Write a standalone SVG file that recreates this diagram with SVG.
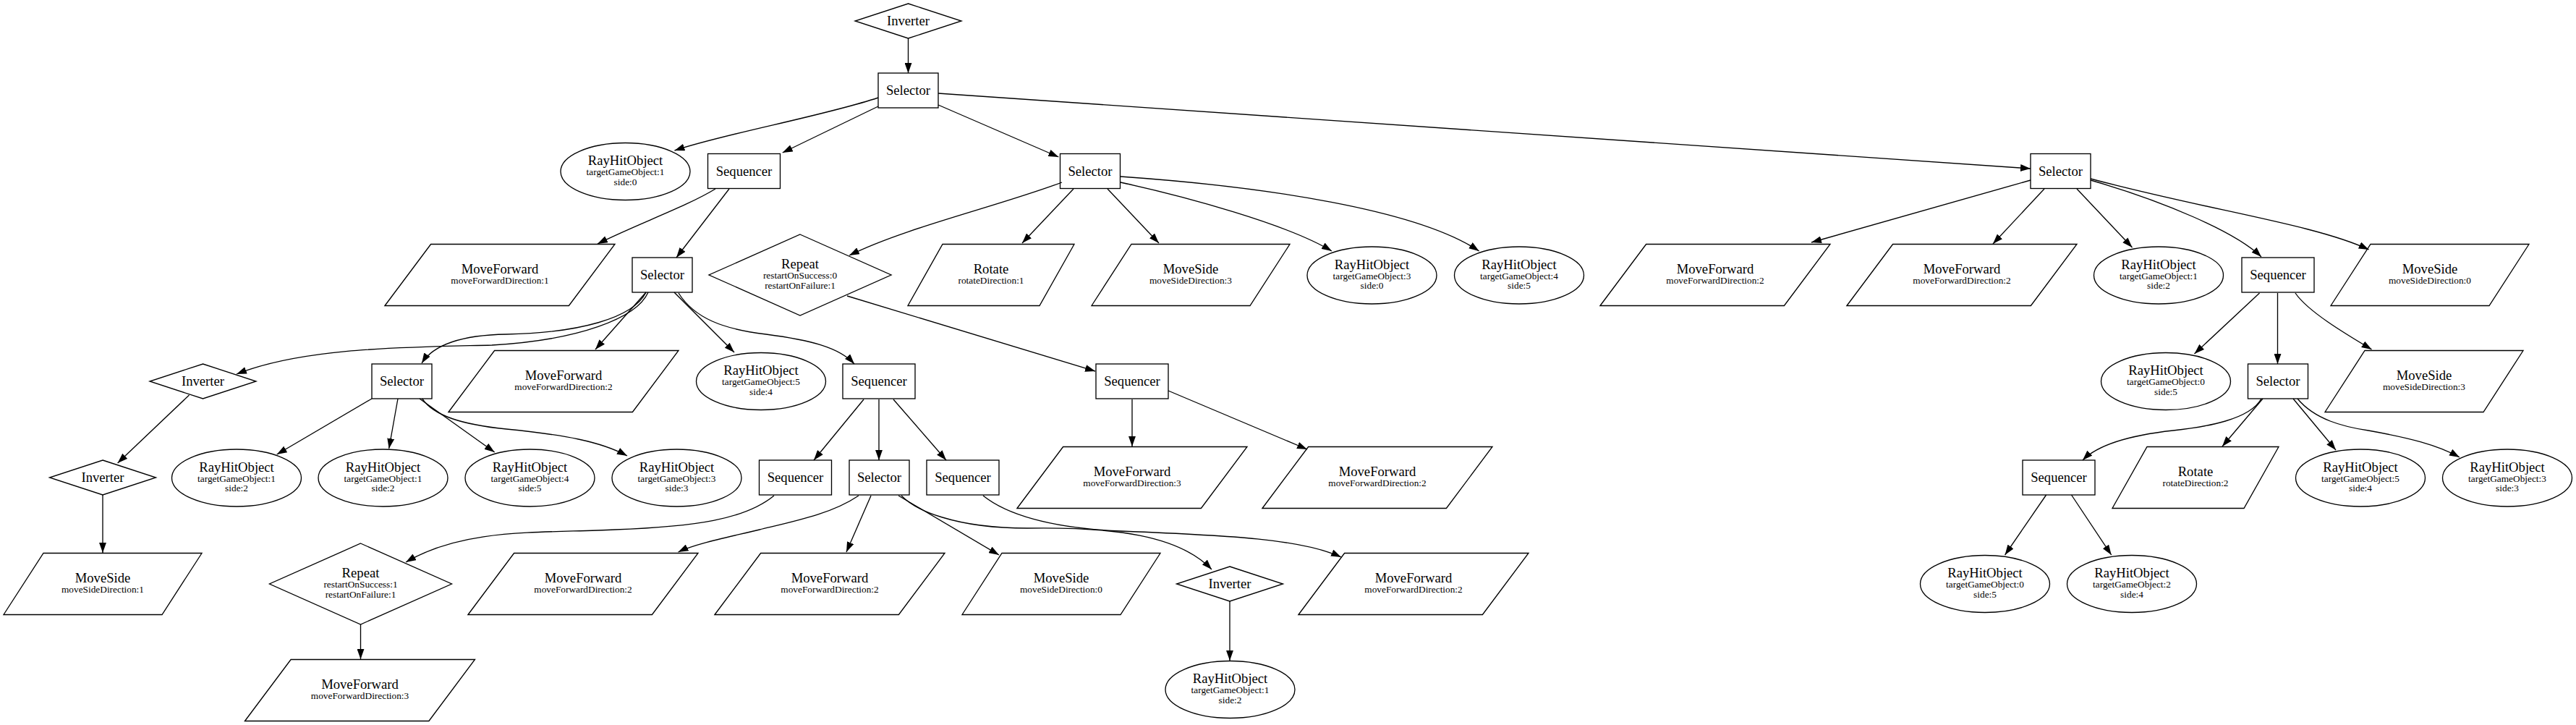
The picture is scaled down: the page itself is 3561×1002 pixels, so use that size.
<svg xmlns="http://www.w3.org/2000/svg" width="3561" height="1002" viewBox="0 0 3561 1002">
<defs>
<marker id="ah" markerUnits="userSpaceOnUse" markerWidth="14" markerHeight="10" viewBox="0 0 13.3 9.4" refX="13.3" refY="4.7" orient="auto">
<path d="M0,0 L13.3,4.7 L0,9.4 Z" fill="#000"/>
</marker>
</defs>
<style>
.sh{fill:none;stroke:#000;stroke-width:1.33}
.e{fill:none;stroke:#000;stroke-width:1.33;marker-end:url(#ah)}
text{font-family:"Liberation Serif","Times New Roman",serif;text-anchor:middle;fill:#000}
.t{font-size:18.67px}
.s{font-size:13.33px}
</style>
<rect x="0" y="0" width="3561" height="1002" fill="#fff"/>
<g id="edges">
<path class="e" d="M1255.5,53 L1255.5,101"/>
<path class="e" d="M1214,135 C1140,160 1000,185 932.5,208"/>
<path class="e" d="M1214,147 L1081.7,211"/>
<path class="e" d="M1297,145 L1463.4,217"/>
<path class="e" d="M1297,129 L2807,233"/>
<path class="e" d="M989,261 C950,285 880,310 826,337"/>
<path class="e" d="M1008,261 L935,356"/>
<path class="e" d="M1468,252 C1380,285 1250,315 1174,353"/>
<path class="e" d="M1484,261 L1413,336"/>
<path class="e" d="M1531,261 L1602,336"/>
<path class="e" d="M1549,252 C1640,272 1780,310 1841,347"/>
<path class="e" d="M1549,244 C1750,258 1960,290 2044.6,347"/>
<path class="e" d="M2807,249 L2504,335"/>
<path class="e" d="M2826,261 L2755,337"/>
<path class="e" d="M2871,261 L2947.5,342"/>
<path class="e" d="M2890,249 C2990,278 3090,320 3126,355"/>
<path class="e" d="M2890,247 C3050,290 3200,310 3274.6,345"/>
<path class="e" d="M896,404 C880,440 800,470 680,477 C560,480 420,480 327,517"/>
<path class="e" d="M893,404 C875,440 800,460 700,462 C640,463 600,475 583,502"/>
<path class="e" d="M893,404 L823,483"/>
<path class="e" d="M932,404 L1015,487"/>
<path class="e" d="M938,405 C960,440 1000,455 1059,462 C1120,470 1160,480 1181,503"/>
<path class="e" d="M1171,409 L1514,513"/>
<path class="e" d="M261.5,546 L162.6,640"/>
<path class="e" d="M514,551 L382.7,628"/>
<path class="e" d="M550,551 L537.7,620"/>
<path class="e" d="M580,551 L683.7,625"/>
<path class="e" d="M583.6,551 C600,575 640,587 700,593 C780,601 830,610 867,630"/>
<path class="e" d="M1194,552 L1125,636"/>
<path class="e" d="M1215,552 L1215,636"/>
<path class="e" d="M1235,552 L1308,636"/>
<path class="e" d="M1565,552 L1565,617"/>
<path class="e" d="M1615,540 L1807,621"/>
<path class="e" d="M142,684 L142,764"/>
<path class="e" d="M1070,685 C1030,718 960,728 850,732 C740,737 640,730 561,777"/>
<path class="e" d="M1187,685 C1150,710 1100,720 1050,732 C1000,744 960,752 937.5,763"/>
<path class="e" d="M1204,685 L1170,763"/>
<path class="e" d="M1242,685 L1381,767"/>
<path class="e" d="M1246,685 C1265,705 1320,730 1420,730 C1540,728 1630,740 1675,787"/>
<path class="e" d="M1359,685 C1390,710 1450,730 1550,734 C1700,740 1800,745 1854,770"/>
<path class="e" d="M498.5,863 L498.5,911"/>
<path class="e" d="M1700,831 L1700,913"/>
<path class="e" d="M3123.5,405 L3033.5,489"/>
<path class="e" d="M3148.5,405 L3148.5,503"/>
<path class="e" d="M3173,405 C3190,430 3240,460 3278.6,483"/>
<path class="e" d="M3126,551 C3110,580 3050,590 3004,595 C2940,602 2900,615 2879,636"/>
<path class="e" d="M3128,551 L3072,617"/>
<path class="e" d="M3170,551 L3229,622"/>
<path class="e" d="M3176,551 C3200,580 3240,590 3274,595 C3330,605 3370,615 3400,632"/>
<path class="e" d="M2828.6,684 L2771.6,767"/>
<path class="e" d="M2863.5,684 L2918.7,767"/>
</g>
<g id="n0"><polygon class="sh" points="1255.5,5 1329,29 1255.5,53 1182,29"/><text class="t" x="1255.5" y="35">Inverter</text></g>
<g id="n1"><rect class="sh" x="1214" y="101" width="83" height="48"/><text class="t" x="1255.5" y="131">Selector</text></g>
<g id="n2"><ellipse class="sh" cx="864.5" cy="237" rx="89.5" ry="39.5"/><text class="t" x="864.5" y="228">RayHitObject</text><text class="s" x="864.5" y="242">targetGameObject:1</text><text class="s" x="864.5" y="255.5">side:0</text></g>
<g id="n3"><rect class="sh" x="978.5" y="212.5" width="100" height="48"/><text class="t" x="1028.5" y="242.5">Sequencer</text></g>
<g id="n4"><rect class="sh" x="1465.5" y="212.5" width="83" height="48"/><text class="t" x="1507" y="242.5">Selector</text></g>
<g id="n5"><rect class="sh" x="2807" y="212.5" width="83" height="48"/><text class="t" x="2848.5" y="242.5">Selector</text></g>
<g id="n6"><polygon class="sh" points="532,422.5 595.6,337.5 850,337.5 786.4,422.5"/><text class="t" x="691" y="378">MoveForward</text><text class="s" x="691" y="392">moveForwardDirection:1</text></g>
<g id="n7"><rect class="sh" x="874" y="356" width="83" height="48"/><text class="t" x="915.5" y="386">Selector</text></g>
<g id="n8"><polygon class="sh" points="1106,324 1232,380 1106,436 980,380"/><text class="t" x="1106" y="371">Repeat</text><text class="s" x="1106" y="385">restartOnSuccess:0</text><text class="s" x="1106" y="398.5">restartOnFailure:1</text></g>
<g id="n9"><polygon class="sh" points="1255,422.5 1303,337.5 1485,337.5 1437,422.5"/><text class="t" x="1370" y="378">Rotate</text><text class="s" x="1370" y="392">rotateDirection:1</text></g>
<g id="n10"><polygon class="sh" points="1509,422.5 1564,337.5 1783,337.5 1728,422.5"/><text class="t" x="1646" y="378">MoveSide</text><text class="s" x="1646" y="392">moveSideDirection:3</text></g>
<g id="n11"><ellipse class="sh" cx="1896.5" cy="380.5" rx="89.5" ry="39.5"/><text class="t" x="1896.5" y="371.5">RayHitObject</text><text class="s" x="1896.5" y="385.5">targetGameObject:3</text><text class="s" x="1896.5" y="399">side:0</text></g>
<g id="n12"><ellipse class="sh" cx="2100" cy="380.5" rx="89.5" ry="39.5"/><text class="t" x="2100" y="371.5">RayHitObject</text><text class="s" x="2100" y="385.5">targetGameObject:4</text><text class="s" x="2100" y="399">side:5</text></g>
<g id="n13"><polygon class="sh" points="2212,422.5 2275.6,337.5 2530,337.5 2466.4,422.5"/><text class="t" x="2371" y="378">MoveForward</text><text class="s" x="2371" y="392">moveForwardDirection:2</text></g>
<g id="n14"><polygon class="sh" points="2553,422.5 2616.6,337.5 2871,337.5 2807.4,422.5"/><text class="t" x="2712" y="378">MoveForward</text><text class="s" x="2712" y="392">moveForwardDirection:2</text></g>
<g id="n15"><ellipse class="sh" cx="2984" cy="380.5" rx="89.5" ry="39.5"/><text class="t" x="2984" y="371.5">RayHitObject</text><text class="s" x="2984" y="385.5">targetGameObject:1</text><text class="s" x="2984" y="399">side:2</text></g>
<g id="n16"><rect class="sh" x="3099" y="356" width="100" height="48"/><text class="t" x="3149" y="386">Sequencer</text></g>
<g id="n17"><polygon class="sh" points="3222,422.5 3277,337.5 3496,337.5 3441,422.5"/><text class="t" x="3359" y="378">MoveSide</text><text class="s" x="3359" y="392">moveSideDirection:0</text></g>
<g id="n18"><polygon class="sh" points="280.5,503 354,527 280.5,551 207,527"/><text class="t" x="280.5" y="533">Inverter</text></g>
<g id="n19"><rect class="sh" x="514" y="503" width="83" height="48"/><text class="t" x="555.5" y="533">Selector</text></g>
<g id="n20"><polygon class="sh" points="620,569.5 683.6,484.5 938,484.5 874.4,569.5"/><text class="t" x="779" y="525">MoveForward</text><text class="s" x="779" y="539">moveForwardDirection:2</text></g>
<g id="n21"><ellipse class="sh" cx="1052" cy="527" rx="89.5" ry="39.5"/><text class="t" x="1052" y="518">RayHitObject</text><text class="s" x="1052" y="532">targetGameObject:5</text><text class="s" x="1052" y="545.5">side:4</text></g>
<g id="n22"><rect class="sh" x="1165" y="503" width="100" height="48"/><text class="t" x="1215" y="533">Sequencer</text></g>
<g id="n23"><rect class="sh" x="1515" y="503" width="100" height="48"/><text class="t" x="1565" y="533">Sequencer</text></g>
<g id="n24"><ellipse class="sh" cx="2994" cy="527" rx="89.5" ry="39.5"/><text class="t" x="2994" y="518">RayHitObject</text><text class="s" x="2994" y="532">targetGameObject:0</text><text class="s" x="2994" y="545.5">side:5</text></g>
<g id="n25"><rect class="sh" x="3107.5" y="503" width="83" height="48"/><text class="t" x="3149" y="533">Selector</text></g>
<g id="n26"><polygon class="sh" points="3214,569.5 3269,484.5 3488,484.5 3433,569.5"/><text class="t" x="3351" y="525">MoveSide</text><text class="s" x="3351" y="539">moveSideDirection:3</text></g>
<g id="n27"><polygon class="sh" points="142,636 215.5,660 142,684 68.5,660"/><text class="t" x="142" y="666">Inverter</text></g>
<g id="n28"><ellipse class="sh" cx="327" cy="660.5" rx="89.5" ry="39.5"/><text class="t" x="327" y="651.5">RayHitObject</text><text class="s" x="327" y="665.5">targetGameObject:1</text><text class="s" x="327" y="679">side:2</text></g>
<g id="n29"><ellipse class="sh" cx="529.5" cy="660.5" rx="89.5" ry="39.5"/><text class="t" x="529.5" y="651.5">RayHitObject</text><text class="s" x="529.5" y="665.5">targetGameObject:1</text><text class="s" x="529.5" y="679">side:2</text></g>
<g id="n30"><ellipse class="sh" cx="732.5" cy="660.5" rx="89.5" ry="39.5"/><text class="t" x="732.5" y="651.5">RayHitObject</text><text class="s" x="732.5" y="665.5">targetGameObject:4</text><text class="s" x="732.5" y="679">side:5</text></g>
<g id="n31"><ellipse class="sh" cx="935.5" cy="660.5" rx="89.5" ry="39.5"/><text class="t" x="935.5" y="651.5">RayHitObject</text><text class="s" x="935.5" y="665.5">targetGameObject:3</text><text class="s" x="935.5" y="679">side:3</text></g>
<g id="n32"><rect class="sh" x="1049.5" y="636" width="100" height="48"/><text class="t" x="1099.5" y="666">Sequencer</text></g>
<g id="n33"><rect class="sh" x="1174" y="636" width="83" height="48"/><text class="t" x="1215.5" y="666">Selector</text></g>
<g id="n34"><rect class="sh" x="1281" y="636" width="100" height="48"/><text class="t" x="1331" y="666">Sequencer</text></g>
<g id="n35"><polygon class="sh" points="1406,702.5 1469.6,617.5 1724,617.5 1660.4,702.5"/><text class="t" x="1565" y="658">MoveForward</text><text class="s" x="1565" y="672">moveForwardDirection:3</text></g>
<g id="n36"><polygon class="sh" points="1745,702.5 1808.6,617.5 2063,617.5 1999.4,702.5"/><text class="t" x="1904" y="658">MoveForward</text><text class="s" x="1904" y="672">moveForwardDirection:2</text></g>
<g id="n37"><rect class="sh" x="2796" y="636" width="100" height="48"/><text class="t" x="2846" y="666">Sequencer</text></g>
<g id="n38"><polygon class="sh" points="2920,702.5 2968,617.5 3150,617.5 3102,702.5"/><text class="t" x="3035" y="658">Rotate</text><text class="s" x="3035" y="672">rotateDirection:2</text></g>
<g id="n39"><ellipse class="sh" cx="3263" cy="660.5" rx="89.5" ry="39.5"/><text class="t" x="3263" y="651.5">RayHitObject</text><text class="s" x="3263" y="665.5">targetGameObject:5</text><text class="s" x="3263" y="679">side:4</text></g>
<g id="n40"><ellipse class="sh" cx="3466" cy="660.5" rx="89.5" ry="39.5"/><text class="t" x="3466" y="651.5">RayHitObject</text><text class="s" x="3466" y="665.5">targetGameObject:3</text><text class="s" x="3466" y="679">side:3</text></g>
<g id="n41"><polygon class="sh" points="5,849.5 60,764.5 279,764.5 224,849.5"/><text class="t" x="142" y="805">MoveSide</text><text class="s" x="142" y="819">moveSideDirection:1</text></g>
<g id="n42"><polygon class="sh" points="498.5,751 624.5,807 498.5,863 372.5,807"/><text class="t" x="498.5" y="798">Repeat</text><text class="s" x="498.5" y="812">restartOnSuccess:1</text><text class="s" x="498.5" y="825.5">restartOnFailure:1</text></g>
<g id="n43"><polygon class="sh" points="647,849.5 710.6,764.5 965,764.5 901.4,849.5"/><text class="t" x="806" y="805">MoveForward</text><text class="s" x="806" y="819">moveForwardDirection:2</text></g>
<g id="n44"><polygon class="sh" points="988,849.5 1051.6,764.5 1306,764.5 1242.4,849.5"/><text class="t" x="1147" y="805">MoveForward</text><text class="s" x="1147" y="819">moveForwardDirection:2</text></g>
<g id="n45"><polygon class="sh" points="1330,849.5 1385,764.5 1604,764.5 1549,849.5"/><text class="t" x="1467" y="805">MoveSide</text><text class="s" x="1467" y="819">moveSideDirection:0</text></g>
<g id="n46"><polygon class="sh" points="1700,783 1773.5,807 1700,831 1626.5,807"/><text class="t" x="1700" y="813">Inverter</text></g>
<g id="n47"><polygon class="sh" points="1795,849.5 1858.6,764.5 2113,764.5 2049.4,849.5"/><text class="t" x="1954" y="805">MoveForward</text><text class="s" x="1954" y="819">moveForwardDirection:2</text></g>
<g id="n48"><ellipse class="sh" cx="2744" cy="807" rx="89.5" ry="39.5"/><text class="t" x="2744" y="798">RayHitObject</text><text class="s" x="2744" y="812">targetGameObject:0</text><text class="s" x="2744" y="825.5">side:5</text></g>
<g id="n49"><ellipse class="sh" cx="2947" cy="807" rx="89.5" ry="39.5"/><text class="t" x="2947" y="798">RayHitObject</text><text class="s" x="2947" y="812">targetGameObject:2</text><text class="s" x="2947" y="825.5">side:4</text></g>
<g id="n50"><polygon class="sh" points="338.5,996.5 402.1,911.5 656.5,911.5 592.9,996.5"/><text class="t" x="497.5" y="952">MoveForward</text><text class="s" x="497.5" y="966">moveForwardDirection:3</text></g>
<g id="n51"><ellipse class="sh" cx="1700.5" cy="953" rx="89.5" ry="39.5"/><text class="t" x="1700.5" y="944">RayHitObject</text><text class="s" x="1700.5" y="958">targetGameObject:1</text><text class="s" x="1700.5" y="971.5">side:2</text></g>
</svg>
